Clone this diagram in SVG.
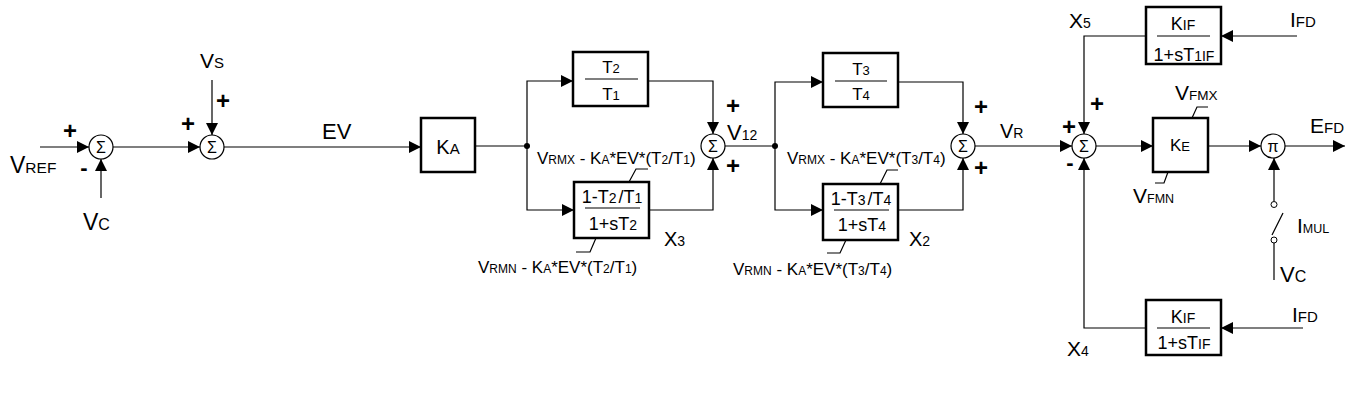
<svg xmlns="http://www.w3.org/2000/svg" width="1357" height="416" viewBox="0 0 1357 416">
<defs>
<marker id="ah" markerWidth="12" markerHeight="12" refX="12" refY="6" orient="auto" markerUnits="userSpaceOnUse"><path d="M0,0 L12,6 L0,12 z" fill="#000"/></marker>
<style>
text{font-family:"Liberation Sans",Arial,sans-serif;fill:#000}
.w{fill:none;stroke:#000;stroke-width:1.2}
.a{marker-end:url(#ah)}
.box{fill:#fff;stroke:#000;stroke-width:2.5}
.sum{fill:#fff;stroke:#000;stroke-width:1.2}
.sg{font-size:16px;text-anchor:middle}
.pm{font-size:24px;font-weight:bold;text-anchor:middle}
.mn{font-size:22px;font-weight:bold;text-anchor:middle}
.bt{font-size:18px;text-anchor:middle}
.bs{font-size:14px}
.bt2{font-size:17px;text-anchor:middle}
.bs2{font-size:13px}
.lbl{font-size:17px}
.ls{font-size:12px}
.bar{stroke:#000;stroke-width:1.2}
</style>
</defs>
<rect width="1357" height="416" fill="#fff"/>
<g id="connectors">
<path class="w a" d="M40,147 H89"/>
<path class="w a" d="M101,198 V159"/>
<path class="w a" d="M113,147 H200"/>
<path class="w a" d="M212,80 V135"/>
<path class="w a" d="M224,147 H421"/>
<path class="w" d="M475,146 H527"/>
<path class="w a" d="M527,146 V81 H573"/>
<path class="w a" d="M527,146 V210 H574"/>
<path class="w a" d="M648,81 H713 V134"/>
<path class="w a" d="M649,210 H713 V158"/>
<path class="w" d="M725,146 H775"/>
<path class="w a" d="M775,146 V82 H823"/>
<path class="w a" d="M775,146 V210 H823"/>
<path class="w a" d="M898,82 H963 V134"/>
<path class="w a" d="M898,210 H963 V158"/>
<path class="w a" d="M975,146 H1072"/>
<path class="w a" d="M1146,36 H1084 V134"/>
<path class="w a" d="M1297,36 H1221"/>
<path class="w a" d="M1146,328 H1084 V158"/>
<path class="w a" d="M1303,328 H1221"/>
<path class="w a" d="M1096,146 H1153"/>
<path class="w a" d="M1208,146 H1261"/>
<path class="w a" d="M1285,146 H1345"/>
<path class="w a" d="M1274,201 V158"/>
<path class="w" d="M1283,213 L1272,235"/>
<path class="w" d="M1274,243 V280"/>
<circle cx="1274" cy="204.5" r="3" fill="#fff" stroke="#000" stroke-width="1"/>
<circle cx="1274" cy="240" r="3" fill="#fff" stroke="#000" stroke-width="1"/>
<circle cx="527" cy="146" r="3" fill="#000"/>
<circle cx="775" cy="146" r="3" fill="#000"/>
<path class="w" d="M629,182 L636,169 H648"/>
<path class="w" d="M596,238 L590,252 H576"/>
<path class="w" d="M880,184 L887,170 H898"/>
<path class="w" d="M846,240 L840,253 H827"/>
<path class="w" d="M1192,118 L1197,107 H1208"/>
<path class="w" d="M1168,172 L1164,183 H1155"/>
</g>
<g id="sum1">
<circle class="sum" cx="101" cy="147" r="12"/>
<text class="sg" x="101" y="153">Σ</text>
<text class="pm" x="70" y="139">+</text>
<text class="mn" x="84" y="175">-</text>
</g>
<g id="vref"><text x="10" y="173" font-size="23">V<tspan font-size="15.5">REF</tspan></text></g>
<g id="vc1"><text x="83" y="230" font-size="23">V<tspan font-size="16">C</tspan></text></g>
<g id="sum2">
<circle class="sum" cx="212" cy="147" r="12"/>
<text class="sg" x="212" y="153">Σ</text>
<text class="pm" x="223" y="109">+</text>
<text class="pm" x="188" y="132">+</text>
</g>
<g id="vs"><text x="200" y="68" font-size="21">V<tspan font-size="15">S</tspan></text></g>
<g id="ev"><text x="322" y="139" font-size="22">EV</text></g>
<g id="ka">
<rect class="box" x="421" y="118" width="54" height="54"/>
<text x="448" y="154" font-size="20" text-anchor="middle">K<tspan font-size="15">A</tspan></text>
</g>
<g id="lead1">
<rect class="box" x="573" y="52" width="75" height="54"/>
<text class="bt2" x="611" y="73">T<tspan class="bs2">2</tspan></text>
<line class="bar" x1="585" y1="79" x2="638" y2="79"/>
<text class="bt2" x="611" y="100">T<tspan class="bs2">1</tspan></text>
</g>
<g id="lag1">
<rect class="box" x="574" y="182" width="75" height="56"/>
<text class="bt" x="612" y="203">1-T<tspan class="bs">2</tspan><tspan dx="2">/</tspan>T<tspan class="bs">1</tspan></text>
<line class="bar" x1="585" y1="208" x2="640" y2="208"/>
<text class="bt" x="613" y="230">1+sT<tspan class="bs">2</tspan></text>
</g>
<g id="lbl1">
<text class="lbl" x="537" y="164">V<tspan class="ls">RMX</tspan> - K<tspan class="ls">A</tspan>*EV*(T<tspan class="ls">2</tspan>/T<tspan class="ls">1</tspan>)</text>
<text class="lbl" x="478" y="273">V<tspan class="ls">RMN</tspan> - K<tspan class="ls">A</tspan>*EV*(T<tspan class="ls">2</tspan>/T<tspan class="ls">1</tspan>)</text>
<text x="664" y="246" font-size="20">X<tspan font-size="14">3</tspan></text>
</g>
<g id="sum3">
<circle class="sum" cx="713" cy="146" r="12"/>
<text class="sg" x="713" y="152">Σ</text>
<text class="pm" x="733" y="114">+</text>
<text class="pm" x="733" y="174">+</text>
<text x="727" y="140" font-size="22">V<tspan font-size="14">12</tspan></text>
</g>
<g id="lead2">
<rect class="box" x="823" y="53" width="75" height="54"/>
<text class="bt2" x="861" y="75">T<tspan class="bs2">3</tspan></text>
<line class="bar" x1="835" y1="81" x2="887" y2="81"/>
<text class="bt2" x="861" y="100">T<tspan class="bs2">4</tspan></text>
</g>
<g id="lag2">
<rect class="box" x="823" y="184" width="75" height="56"/>
<text class="bt" x="861" y="205">1-T<tspan class="bs">3</tspan><tspan dx="2">/</tspan>T<tspan class="bs">4</tspan></text>
<line class="bar" x1="834" y1="210" x2="889" y2="210"/>
<text class="bt" x="862" y="231">1+sT<tspan class="bs">4</tspan></text>
</g>
<g id="lbl2">
<text class="lbl" x="787" y="164">V<tspan class="ls">RMX</tspan> - K<tspan class="ls">A</tspan>*EV*(T<tspan class="ls">3</tspan>/T<tspan class="ls">4</tspan>)</text>
<text class="lbl" x="733" y="275">V<tspan class="ls">RMN</tspan> - K<tspan class="ls">A</tspan>*EV*(T<tspan class="ls">3</tspan>/T<tspan class="ls">4</tspan>)</text>
<text x="909" y="246" font-size="20">X<tspan font-size="14">2</tspan></text>
</g>
<g id="sum4">
<circle class="sum" cx="963" cy="146" r="12"/>
<text class="sg" x="963" y="152">Σ</text>
<text class="pm" x="981" y="115">+</text>
<text class="pm" x="981" y="176">+</text>
<text x="1000" y="138" font-size="20">V<tspan font-size="14">R</tspan></text>
</g>
<g id="sum5">
<circle class="sum" cx="1084" cy="146" r="12"/>
<text class="sg" x="1084" y="152">Σ</text>
<text class="pm" x="1069" y="135">+</text>
<text class="mn" x="1070" y="170">-</text>
<text class="pm" x="1097" y="112">+</text>
</g>
<g id="kif1">
<rect class="box" x="1146" y="7" width="75" height="57"/>
<text class="bt" x="1183" y="30">K<tspan class="bs">IF</tspan></text>
<line class="bar" x1="1157" y1="36" x2="1210" y2="36"/>
<text class="bt" x="1184" y="61">1+sT<tspan class="bs">1IF</tspan></text>
<text x="1069" y="28" font-size="21">X<tspan font-size="14">5</tspan></text>
<text x="1290" y="27" font-size="21">I<tspan font-size="15">FD</tspan></text>
</g>
<g id="kif2">
<rect class="box" x="1146" y="300" width="75" height="55"/>
<text class="bt" x="1183" y="323">K<tspan class="bs">IF</tspan></text>
<line class="bar" x1="1157" y1="328" x2="1210" y2="328"/>
<text class="bt" x="1184" y="349">1+sT<tspan class="bs">IF</tspan></text>
<text x="1067" y="356" font-size="21">X<tspan font-size="14">4</tspan></text>
<text x="1292" y="322" font-size="21">I<tspan font-size="15">FD</tspan></text>
</g>
<g id="ke">
<rect class="box" x="1153" y="118" width="55" height="54"/>
<text x="1180" y="151" font-size="17" text-anchor="middle">K<tspan font-size="13">E</tspan></text>
<text x="1175" y="100" font-size="21">V<tspan font-size="13.5">FMX</tspan></text>
<text x="1133" y="203" font-size="21">V<tspan font-size="12.5">FMN</tspan></text>
</g>
<g id="pi">
<circle class="sum" cx="1273" cy="146" r="12"/>
<text class="sg" x="1273" y="152">π</text>
<text x="1310" y="133" font-size="21">E<tspan font-size="15">FD</tspan></text>
<text x="1297" y="233" font-size="21">I<tspan font-size="12.5">MUL</tspan></text>
<text x="1280" y="282" font-size="22">V<tspan font-size="16">C</tspan></text>
</g>
</svg>
